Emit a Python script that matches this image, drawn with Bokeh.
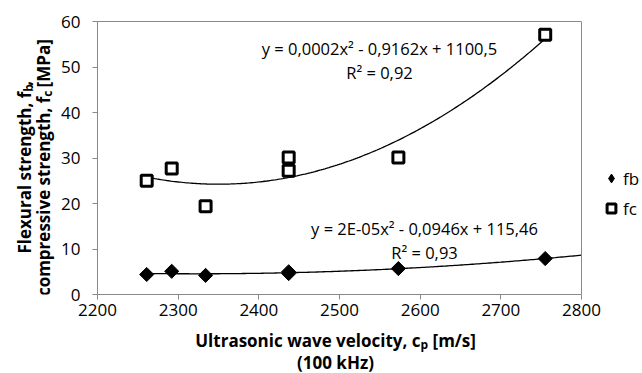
import numpy as np
from bokeh.plotting import figure
from bokeh.layouts import row, column
from bokeh.models import Legend, LegendItem, Range1d, FixedTicker, LinearAxis, Span
from bokeh.core.properties import value
from bokeh.embed import file_html
from bokeh.resources import INLINE

# ---- data ----
velocity = [2261, 2292, 2334, 2437, 2437, 2573, 2755]
fb = [4.4, 5.1, 4.2, 4.6, 5.0, 5.7, 7.9]
fc = [25.0, 27.7, 19.4, 27.2, 30.1, 30.1, 57.1]
x_ticks = [2200, 2300, 2400, 2500, 2600, 2700, 2800]
y_ticks = [0, 10, 20, 30, 40, 50, 60]
eq_fc = "y = 0,0002x² - 0,9162x + 1100,5"
r2_fc = "R² = 0,92"
eq_fb = "y = 2E-05x² - 0,0946x + 115,46"
r2_fb = "R² = 0,93"
legend_labels = ["fb", "fc"]

FONT = "Open Sans"
GREY = "#898989"
W, H = 642, 373
YT_W = 56            # strip holding the y-axis title
MAIN_H = 327
XT_H = H - MAIN_H    # strip holding the x-axis title
FL, FR, FT, FBOT = 97, 581, 21, 294   # plot-area edges on the page
px_x = (x_ticks[-1] - x_ticks[0]) / (FR - FL)
px_y = (y_ticks[-1] - y_ticks[0]) / (FBOT - FT)
x_end = x_ticks[-1] + (W - FR) * px_x   # room on the right for the legend


def X(cx):
    return x_ticks[0] + (cx - FL) * px_x


def Y(cy):
    return y_ticks[0] + (FBOT - cy) * px_y


main = figure(width=W - YT_W, height=MAIN_H, output_backend="svg", toolbar_location=None,
              x_range=Range1d(x_ticks[0], x_end), y_range=Range1d(y_ticks[0], y_ticks[-1]),
              min_border_left=FL - YT_W, min_border_right=0, min_border_top=FT,
              min_border_bottom=MAIN_H - FBOT)
main.background_fill_color = "white"
main.border_fill_color = "white"
main.outline_line_color = None
main.xgrid.visible = False
main.ygrid.visible = False

main.xaxis.bounds = (x_ticks[0], x_ticks[-1])
for ax, ticks in ((main.xaxis[0], x_ticks), (main.yaxis[0], y_ticks)):
    ax.ticker = FixedTicker(ticks=ticks)
    ax.axis_line_color = GREY
    ax.major_tick_line_color = GREY
    ax.major_tick_out = 5
    ax.major_tick_in = 0
    ax.minor_tick_line_color = None
    ax.major_label_text_font = FONT
    ax.major_label_text_font_size = "17px"
    ax.major_label_text_color = "black"
main.yaxis.major_label_standoff = 12
main.xaxis.major_label_standoff = 4

top = LinearAxis(bounds=(x_ticks[0], x_ticks[-1]), ticker=FixedTicker(ticks=[]),
                 axis_line_color=GREY, major_tick_line_color=None, minor_tick_line_color=None,
                 major_tick_out=0, major_label_standoff=0, major_label_text_font_size="0px")
main.add_layout(top, "above")
main.add_layout(Span(location=x_ticks[-1], dimension="height", line_color=GREY, line_width=1))

# trend lines (least-squares quadratic fits of the data, as in the source)
cfb = np.polyfit(velocity, fb, 2)
cfc = np.polyfit(velocity, fc, 2)
xs_fb = np.linspace(min(velocity), x_ticks[-1], 200)
xs_fc = np.linspace(min(velocity), max(velocity), 200)
main.line(xs_fb, np.polyval(cfb, xs_fb), line_color="black", line_width=1.3)
main.line(xs_fc, np.polyval(cfc, xs_fc), line_color="black", line_width=1.3)

# fb points: a diamond (used as the legend swatch) under a rotated square
r_fb_key = main.scatter(velocity, fb, marker="diamond", size=10, fill_color="black",
                        line_color="black", line_width=1)
r_fb = main.scatter(velocity, fb, marker="square", angle=np.pi / 4, size=10,
                    fill_color="black", line_color="black", line_width=1)
r_fc = main.scatter(velocity, fc, marker="square", size=11, fill_color="white",
                    line_color="black", line_width=3)

legend = Legend(items=[LegendItem(label=legend_labels[0], renderers=[r_fb_key]),
                       LegendItem(label=legend_labels[1], renderers=[r_fc])],
                location=(600 - FL, FBOT - 223), orientation="vertical",
                glyph_width=22, glyph_height=30, spacing=0, label_standoff=1,
                padding=0, margin=0, border_line_color=None, background_fill_alpha=0,
                label_text_font=FONT, label_text_font_size="17px", label_text_color="black")
main.add_layout(legend, "center")


def txt(fig, s, x, y, size=17, bold=False, align="center", angle=0.0):
    fig.text(x=[x], y=[y], text=[s], angle=angle, text_align=value(align),
             text_baseline=value("middle"), text_font=value(FONT),
             text_font_size=value(f"{size}px"),
             text_font_style=value("bold" if bold else "normal"), text_color="black")


# regression equations
txt(main, eq_fc, X(379), Y(48), size=16.5)
txt(main, r2_fc, X(379), Y(72), size=16.5)
txt(main, eq_fb, X(424), Y(228), size=16.5)
txt(main, r2_fb, X(424), Y(252), size=16.5)

# ---- y-axis title strip ----
yt = figure(width=YT_W, height=MAIN_H, output_backend="svg", toolbar_location=None,
            x_range=Range1d(0, YT_W), y_range=Range1d(0, MAIN_H), min_border=0,
            x_axis_type=None, y_axis_type=None)
yt.outline_line_color = None
yt.grid.visible = False
A = np.pi / 2
txt(yt, "Flexural strength, f", 24, MAIN_H - 84, bold=True, align="right", angle=A)
txt(yt, "b", 28, MAIN_H - 84, size=12, bold=True, align="left", angle=A)
txt(yt, ",", 24, MAIN_H - 77, bold=True, align="left", angle=A)
txt(yt, "compressive strength, f", 43, MAIN_H - 90, bold=True, align="right", angle=A)
txt(yt, "c", 47, MAIN_H - 90, size=12, bold=True, align="left", angle=A)
txt(yt, "[MPa]", 43, MAIN_H - 79, bold=True, align="left", angle=A)

# ---- x-axis title strip ----
xt = figure(width=W, height=XT_H, output_backend="svg", toolbar_location=None,
            x_range=Range1d(0, W), y_range=Range1d(0, XT_H), min_border=0,
            x_axis_type=None, y_axis_type=None)
xt.outline_line_color = None
xt.grid.visible = False
Y1 = 340 - MAIN_H
Y2 = 362 - MAIN_H
txt(xt, "Ultrasonic wave velocity, c", 420, XT_H - Y1, bold=True, align="right")
txt(xt, "p", 420, XT_H - Y1 - 4, size=12, bold=True, align="left")
txt(xt, "[m/s]", 432, XT_H - Y1, bold=True, align="left")
txt(xt, "(100 kHz)", 335, XT_H - Y2, bold=True)

layout = column(row(yt, main, spacing=0), xt, spacing=0)
open("out.html", "w").write(file_html(layout, INLINE))
